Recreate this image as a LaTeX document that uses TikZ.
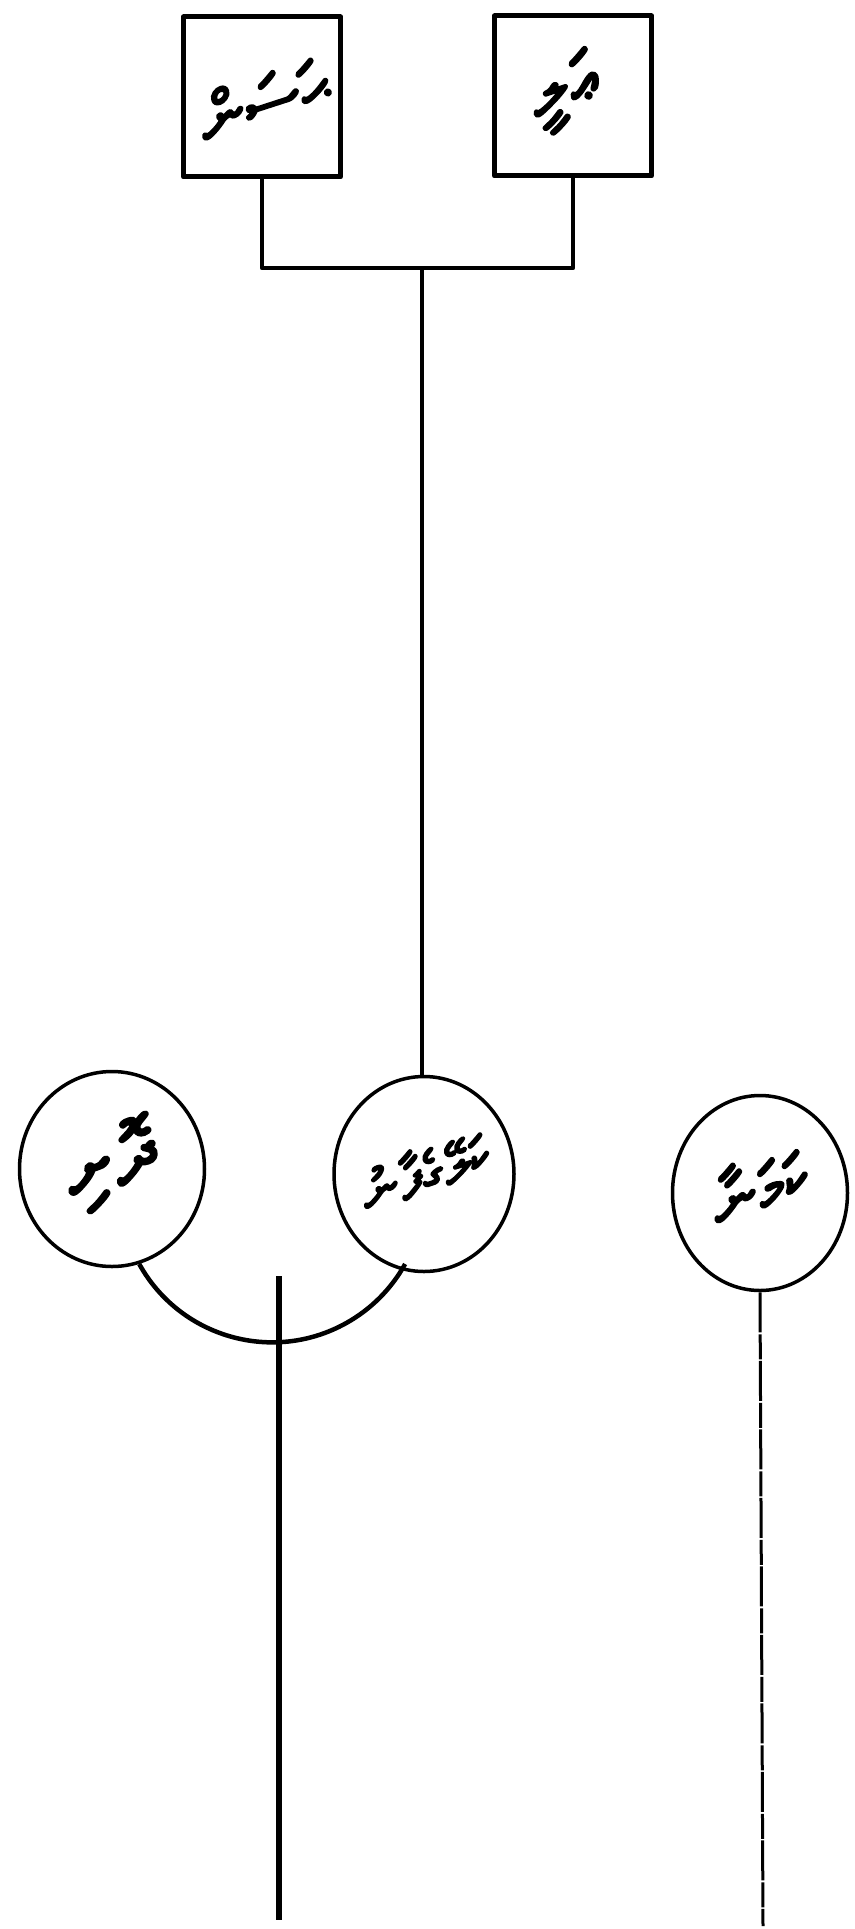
\documentclass[tikz,border=0pt]{standalone}
\usetikzlibrary{shapes.geometric}
\usepackage{fontspec}
\TeXXeTstate=1
\IfFontExistsTF{FreeSerif}
  {\newfontfamily\thaana[Script=Thaana,FakeBold=3]{FreeSerif}}
  {\newfontfamily\thaana{DejaVu Sans}}
\begin{document}
\begin{tikzpicture}[x=1pt,y=-1pt,line join=round]
\tikzset{
  box/.style={draw,line width=5pt,minimum width=157pt,minimum height=160pt,inner sep=0pt},
  person/.style={draw,ellipse,line width=3.5pt,minimum width=182pt,minimum height=195pt,inner sep=0pt},
  link/.style={line width=4.5pt},
  thin link/.style={line width=3pt,dash pattern=on 40pt off 2pt on 25pt off 1.5pt},
  pname/.style={font=\thaana\fontsize{64}{72}\selectfont,rotate=18,inner sep=0pt}
}
\useasboundingbox (0,0) rectangle (854,1929);
% boxes
\node[box] (A) at (262,97) {};
\node[box] (B) at (573,96) {};
\node[pname,font=\thaana\fontsize{66}{74}\selectfont] (tA) at (262,100) {\beginR ޙަސަން\endR};
\node[pname,font=\thaana\fontsize{70}{78}\selectfont] (tB) at (565,92) {\beginR ޢަލީ\endR};
% circles
\node[person,minimum width=185pt] (L) at (112,1169) {};
\node[person,minimum width=180pt] (M) at (424,1174) {};
\node[person,minimum width=175pt] (R) at (760,1193) {};
\node[pname,font=\thaana\fontsize{80}{88}\selectfont] (tL) at (110,1165) {\beginR ދޮށި\endR};
\node[pname,font=\thaana\fontsize{54}{62}\selectfont] (tM) at (424,1170) {\beginR ކަލޭގެފާނު\endR};
\node[pname,font=\thaana\fontsize{66}{74}\selectfont] (tR) at (758,1185) {\beginR ކަމަނާ\endR};
% connectors
\coordinate (j) at (422,268);
\draw[link] (A.south) |- (j);
\draw[link] (B.south) |- (j);
\draw[link] (j) -- (j |- M.north);
\draw[link] (L.-74) arc[start angle=151,end angle=29,radius=152];
\coordinate (ct) at (279,1276);
\coordinate (cb) at (279,1920);
\draw[line width=6pt] (ct) -- (cb);
\coordinate (rb) at (763,1926);
\draw[thin link] (R.south) -- (rb);
\end{tikzpicture}
\end{document}
